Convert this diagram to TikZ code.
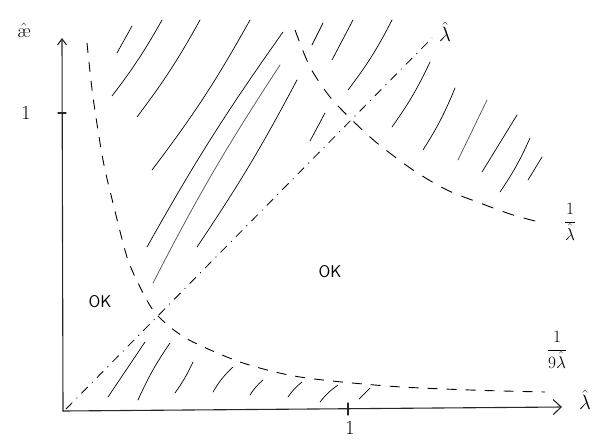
\documentclass[tikz,border=0pt]{standalone}
\usetikzlibrary{arrows.meta}
\begin{document}
\begin{tikzpicture}[x=1pt,y=-1pt,
  axis/.style={line width=1.1pt, black!85, line cap=round},
  curvea/.style={line width=0.9pt, dash pattern=on 10pt off 9pt},
  curveb/.style={line width=0.9pt, dash pattern=on 12pt off 10pt},
  diag/.style={line width=0.8pt, dash pattern=on 9pt off 6pt on 1pt off 6pt},
  hatch/.style={line width=0.7pt, line cap=round},
  lbl/.style={inner sep=0pt, font=\fontsize{20}{22}\selectfont},
  fr/.style={inner sep=0pt, font=\fontsize{18}{20}\selectfont},
  ok/.style={inner sep=0pt, font=\fontsize{17}{19}\selectfont\sffamily}]
\useasboundingbox (0,0) rectangle (596,439);
% axes
\coordinate (O) at (63,411);
\coordinate (xend) at (562,407);
\coordinate (yend) at (62,38);
\draw[axis, -{Straight Barb[length=8pt,width=15pt]}] (O) -- (xend);
\draw[axis, -{Straight Barb[length=6pt,width=9pt]}] (O) -- (yend);
\coordinate (x1) at (348,409);
\coordinate (y1) at (62,113);
\draw[axis] ([yshift=6pt]x1) -- ([yshift=-6pt]x1);
\draw[axis] ([xshift=-4pt]y1) -- ([xshift=4pt]y1);
% labels
\node[lbl] (onex) at (350,428) {1};
\node[lbl] (oney) at (26,113) {1};
\node[lbl] (ylab) at (24,30) {$\hat{\mbox{\ae}}$};
\node[lbl] (lamtop) at (445,32) {$\hat{\lambda}$};
\node[lbl] (lamx) at (585,400) {$\hat{\lambda}$};
\node[fr] (fraca) at (570,222) {$\displaystyle\frac{1}{\hat{\lambda}}$};
\node[fr] (fracb) at (557,350) {$\displaystyle\frac{1}{9\hat{\lambda}}$};
\node[ok] (okmid) at (330,272) {OK};
\node[ok] (okleft) at (100,302) {OK};
% curves
\draw[curvea] plot[smooth] coordinates {(87,43) (93,97) (103,160) (113,203) (127,257) (140,287) (153,310) (170,327) (193,342) (243,363) (300,377) (387,386) (470,390) (545,392)};
\draw[curveb] plot[smooth] coordinates {(295,30) (310,67) (330,97) (352,120) (377,143) (413,170) (447,190) (480,203) (513,215) (543,223)};
\coordinate (d0) at (66,409);
\coordinate (d1) at (432,38);
\draw[diag] (d0) -- (d1);
% hatching top-left
\draw[hatch] (117,53) -- (132,26);
\draw[hatch] (112,96) to[bend right=4] (162,20);
\draw[hatch] (137,117) to[bend right=4] (200,20);
\draw[hatch] (152,170) to[bend right=4] (250,20);
\draw[hatch] (147,247) to[bend left=3] (283,32);
\draw[hatch, black!70] (153,283) to[bend left=3] (280,65);
\draw[hatch] (197,247) to[bend right=3] (297,80);
\draw[hatch] (310,141) -- (325,113);
% hatching top-right
\draw[hatch] (312,45) -- (323,23);
\draw[hatch] (332,60) -- (353,20);
\draw[hatch] (348,90) to[bend right=5] (392,20);
\draw[hatch] (392,127) to[bend right=5] (430,62);
\draw[hatch] (423,150) to[bend right=5] (455,88);
\draw[hatch, black!70] (458,160) -- (487,100);
\draw[hatch] (482,172) -- (517,115);
\draw[hatch] (500,192) to[bend right=5] (530,138);
\draw[hatch] (528,180) -- (542,157);
% hatching bottom
\draw[hatch] (108,397) -- (145,342);
\draw[hatch] (138,400) to[bend left=5] (170,343);
\draw[hatch] (175,393) to[bend right=5] (193,362);
\draw[hatch] (213,392) to[bend left=8] (233,367);
\draw[hatch] (250,395) to[bend left=8] (263,380);
\draw[hatch] (288,397) to[bend left=8] (302,382);
\draw[hatch] (320,402) to[bend left=8] (338,385);
\draw[hatch] (359,399) -- (370,388);
\end{tikzpicture}
\end{document}
